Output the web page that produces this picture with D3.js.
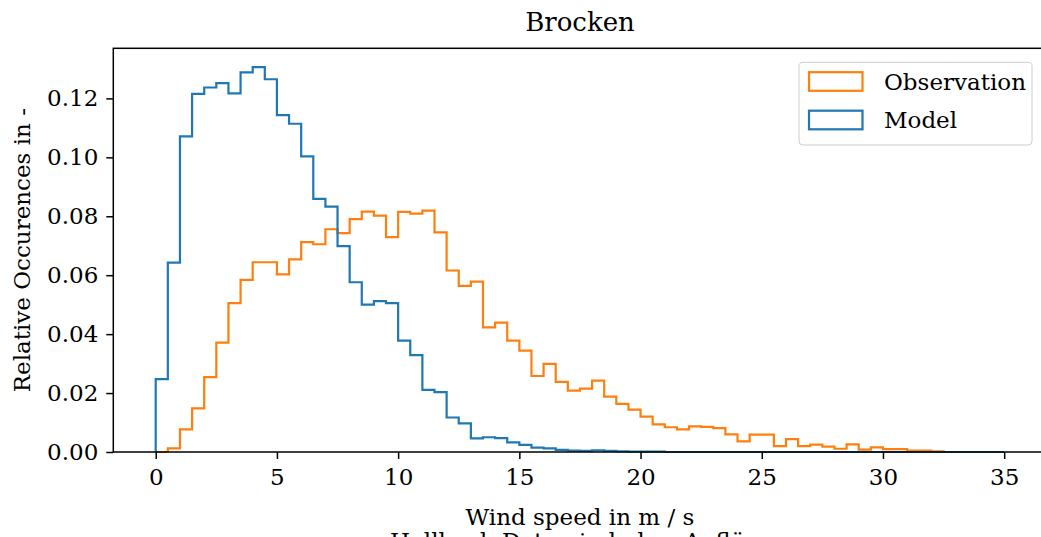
<!DOCTYPE html>
<html>
<head>
<meta charset="utf-8">
<script src="https://cdn.jsdelivr.net/npm/d3@7"></script>
<style>
  html, body { margin: 0; padding: 0; background: #fff; overflow: hidden; }
  svg text { font-family: "DejaVu Serif", serif; fill: #000; }
</style>
</head>
<body>
<svg id="lienzo" width="1041" height="537"></svg>
<script>
// histogram bins: 0.5 m/s wide, starting at 0
const binStart = 0;
const binWidth = 0.5;

// relative occurrences per bin
const modelValues = [
  0.0247, 0.0643, 0.1071, 0.1215, 0.1237, 0.1252, 0.1217, 0.1288, 0.1306, 0.1265,
  0.1143, 0.1114, 0.1003, 0.0859, 0.0833, 0.0699, 0.0576, 0.0500, 0.0512, 0.0505,
  0.0378, 0.0329, 0.0211, 0.0203, 0.0117, 0.0097, 0.0046, 0.0050, 0.0047, 0.0033,
  0.0024, 0.0015, 0.0012, 0.0007, 0.0005, 0.0004, 0.0006, 0.0004, 0.0002, 0.0001,
  0.0001, 0.0001, 0, 0, 0, 0, 0, 0, 0, 0,
  0, 0, 0, 0, 0, 0, 0, 0, 0, 0,
  0, 0, 0, 0, 0, 0, 0, 0, 0, 0
];
const observationValues = [
  0, 0.0012, 0.0077, 0.0148, 0.0254, 0.0371, 0.0505, 0.0584, 0.0644, 0.0644,
  0.0603, 0.0654, 0.0712, 0.0705, 0.0756, 0.0743, 0.0790, 0.0816, 0.0802, 0.0729,
  0.0815, 0.0809, 0.0819, 0.0745, 0.0616, 0.0564, 0.0578, 0.0423, 0.0439, 0.0378,
  0.0344, 0.0258, 0.0299, 0.0238, 0.0208, 0.0215, 0.0242, 0.0188, 0.0163, 0.0144,
  0.0120, 0.0094, 0.0084, 0.0077, 0.0087, 0.0085, 0.0081, 0.0060, 0.0036, 0.0059,
  0.0059, 0.0020, 0.0044, 0.0020, 0.0025, 0.0018, 0.0011, 0.0026, 0.0008, 0.0016,
  0.0010, 0.0010, 0.0005, 0.0005, 0.0002, 0, 0, 0, 0, 0
];

const xTicks = [0, 5, 10, 15, 20, 25, 30, 35];
const yTicks = [0.00, 0.02, 0.04, 0.06, 0.08, 0.10, 0.12];
const seriesNames = ['Observation', 'Model'];
const seriesColors = ['#ff7f0e', '#1f77b4'];

const svg = d3.select('#lienzo');

// plot area (right edge falls just outside the picture)
const area = { left: 113.3, right: 1046.6, top: 48.3, bottom: 452 };

const x = d3.scaleLinear().domain([-1.75, 36.75]).range([area.left, area.right]);
const y = d3.scaleLinear().domain([0, 0.137]).range([area.bottom, area.top]);

// step outline like matplotlib histtype='step'
function stepPoints(values) {
  const pts = [[binStart, 0]];
  values.forEach((v, i) => pts.push([binStart + i * binWidth, v]));
  const end = binStart + values.length * binWidth;
  pts.push([end, values[values.length - 1]]);
  pts.push([end, 0]);
  return pts;
}

const line = d3.line()
  .x(d => x(d[0]))
  .y(d => y(d[1]))
  .curve(d3.curveStepAfter);

const plot = svg.append('g');

// orange first, blue drawn on top
plot.append('path')
  .attr('d', line(stepPoints(observationValues)))
  .attr('fill', 'none')
  .attr('stroke', seriesColors[0])
  .attr('stroke-width', 2.2);

plot.append('path')
  .attr('d', line(stepPoints(modelValues)))
  .attr('fill', 'none')
  .attr('stroke', seriesColors[1])
  .attr('stroke-width', 2.2);

// axes
const xAxis = d3.axisBottom(x).tickValues(xTicks).tickSize(7).tickPadding(10)
  .tickFormat(d3.format('d'));
const yAxis = d3.axisLeft(y).tickValues(yTicks).tickSize(7).tickPadding(8)
  .tickFormat(d3.format('.2f'));

const gx = svg.append('g').attr('transform', `translate(0,${area.bottom})`).call(xAxis);
const gy = svg.append('g').attr('transform', `translate(${area.left},0)`).call(yAxis);

[gx, gy].forEach(g => {
  g.select('.domain').remove();
  g.selectAll('.tick line').attr('stroke', '#000').attr('stroke-width', 1.5);
  g.selectAll('.tick text').attr('font-size', '23px').attr('font-family', '"DejaVu Serif", serif');
});

// frame
svg.append('rect')
  .attr('x', area.left).attr('y', area.top)
  .attr('width', area.right - area.left).attr('height', area.bottom - area.top)
  .attr('fill', 'none')
  .attr('stroke', '#000')
  .attr('stroke-width', 1.5);

// title and labels
svg.append('text')
  .attr('x', (area.left + area.right) / 2).attr('y', 31)
  .attr('text-anchor', 'middle')
  .attr('font-size', '26px')
  .text('Brocken');

svg.append('text')
  .attr('x', (area.left + area.right) / 2).attr('y', 525)
  .attr('text-anchor', 'middle')
  .attr('font-size', '23px')
  .text('Wind speed in m / s');

// second line of the x label, cut off by the picture edge
svg.append('text')
  .attr('x', 390).attr('y', 549)
  .attr('font-size', '23px')
  .text('Hallbach Daten in hoher Auflösung');

svg.append('text')
  .attr('transform', `translate(30,${(area.top + area.bottom) / 2}) rotate(-90)`)
  .attr('text-anchor', 'middle')
  .attr('font-size', '23px')
  .text('Relative Occurences in -');

// legend
const legend = svg.append('g');
legend.append('rect')
  .attr('x', 799).attr('y', 62.3)
  .attr('width', 233).attr('height', 82.7)
  .attr('rx', 4)
  .attr('fill', '#fff').attr('fill-opacity', 0.8)
  .attr('stroke', '#cccccc').attr('stroke-width', 1);

seriesNames.forEach((name, i) => {
  const cy = 81.5 + i * 38.5;
  legend.append('rect')
    .attr('x', 809).attr('y', cy - 9.3)
    .attr('width', 53.5).attr('height', 18.6)
    .attr('fill', 'none')
    .attr('stroke', seriesColors[i])
    .attr('stroke-width', 2.2);
  legend.append('text')
    .attr('x', 884).attr('y', cy + 8)
    .attr('font-size', '23px')
    .text(name);
});
</script>
</body>
</html>
